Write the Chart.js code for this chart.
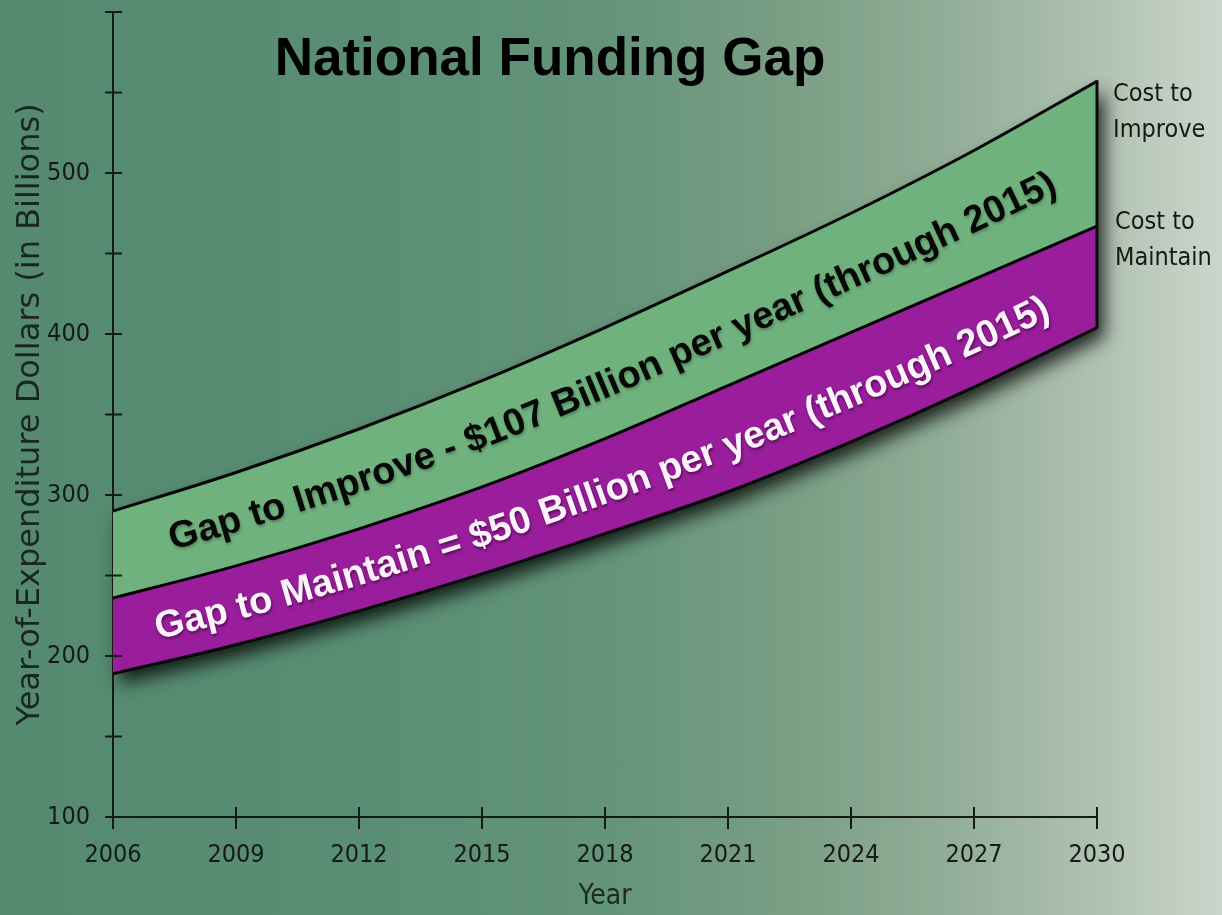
<!DOCTYPE html>
<html>
<head>
<meta charset="utf-8">
<title>National Funding Gap</title>
<script src="https://cdn.jsdelivr.net/npm/chart.js@4.4.1/dist/chart.umd.min.js"></script>
<style>
  html, body { margin: 0; padding: 0; }
  body {
    width: 1222px;
    height: 915px;
    overflow: hidden;
    background: linear-gradient(to right, #558a70 0%, #5a8e74 30%, #64947a 50%, #7a9f85 65%, #93ae98 78%, #b0c2b2 90%, #cad6cb 100%);
  }
  #wrap { position: relative; width: 1222px; height: 915px; }
</style>
</head>
<body>
<div id="wrap"><canvas id="gap-chart"></canvas></div>
<script>
const years = [2006, 2009, 2012, 2015, 2018, 2021, 2024, 2027, 2030];
const costToImprove = [290, 314, 341, 371, 404, 439, 475, 514, 557];
const costToMaintain = [236, 256, 279, 305, 335, 368, 401, 434, 467];
const spendingLevel = [189, 207, 228, 251, 276, 302, 333, 367, 404];

const improveLabel = 'Gap to Improve - $107 Billion per year (through 2015)';
const maintainLabel = 'Gap to Maintain = $50 Billion per year (through 2015)';

const narrowFont = "'Liberation Sans Narrow', 'DejaVu Sans Condensed', 'Liberation Sans', sans-serif";
const inkColor = '#161a17';

function toPoints(series) {
  return years.map((yr, i) => ({ x: yr, y: series[i] }));
}

// straight-line value between the sampled years, used to lay the band texts along the bands
function valueAt(series, year) {
  for (let i = 0; i < years.length - 1; i++) {
    if (year <= years[i + 1]) {
      const t = (year - years[i]) / (years[i + 1] - years[i]);
      return series[i] + t * (series[i + 1] - series[i]);
    }
  }
  return series[series.length - 1];
}

function drawBandText(chart, text, upper, lower, frac, startYear, font, color, shadow) {
  const ctx = chart.ctx;
  const xs = chart.scales.x;
  const ys = chart.scales.y;
  const baseY = (px) => {
    const yr = xs.getValueForPixel(px);
    const a = ys.getPixelForValue(valueAt(upper, yr));
    const b = ys.getPixelForValue(valueAt(lower, yr));
    return a + frac * (b - a);
  };
  ctx.save();
  ctx.font = font;
  ctx.fillStyle = color;
  ctx.textBaseline = 'alphabetic';
  ctx.shadowColor = shadow;
  ctx.shadowBlur = 3;
  ctx.shadowOffsetX = 1;
  ctx.shadowOffsetY = 2;
  let px = xs.getPixelForValue(startYear);
  for (const ch of text) {
    const w = ctx.measureText(ch).width;
    const ang = Math.atan2(baseY(px + 30) - baseY(px - 30), 60);
    ctx.save();
    ctx.translate(px, baseY(px));
    ctx.rotate(ang);
    ctx.fillText(ch, 0, 0);
    ctx.restore();
    px += Math.cos(ang) * w;
  }
  ctx.restore();
}

const bandShadow = {
  id: 'bandShadow',
  beforeDraw(chart) {
    const ctx = chart.ctx;
    const top = chart.getDatasetMeta(0).data;
    const bottom = chart.getDatasetMeta(2).data;
    ctx.save();
    ctx.shadowColor = 'rgba(0,0,0,0.8)';
    ctx.shadowBlur = 18;
    ctx.shadowOffsetX = 7;
    ctx.shadowOffsetY = 10;
    ctx.fillStyle = '#1c1c1c';
    ctx.beginPath();
    top.forEach((p, i) => (i ? ctx.lineTo(p.x, p.y) : ctx.moveTo(p.x, p.y)));
    for (let i = bottom.length - 1; i >= 0; i--) ctx.lineTo(bottom[i].x, bottom[i].y);
    ctx.closePath();
    ctx.fill();
    ctx.restore();
  },
  afterDatasetsDraw(chart) {
    const ctx = chart.ctx;
    const top = chart.getDatasetMeta(0).data;
    const bottom = chart.getDatasetMeta(2).data;
    const a = top[top.length - 1];
    const b = bottom[bottom.length - 1];
    ctx.save();
    ctx.strokeStyle = '#0a0a0a';
    ctx.lineWidth = 3;
    ctx.beginPath();
    ctx.moveTo(a.x, a.y - 1);
    ctx.lineTo(b.x, b.y + 1);
    ctx.stroke();

    // ticks that cross the axes
    const xs = chart.scales.x;
    const ys = chart.scales.y;
    ctx.strokeStyle = inkColor;
    ctx.lineWidth = 2;
    ys.ticks.forEach((t) => {
      const y = ys.getPixelForValue(t.value);
      ctx.beginPath();
      ctx.moveTo(xs.left - 8, y);
      ctx.lineTo(xs.left + 9, y);
      ctx.stroke();
    });
    xs.ticks.forEach((t) => {
      const x = xs.getPixelForValue(t.value);
      ctx.beginPath();
      ctx.moveTo(x, ys.bottom - 10);
      ctx.lineTo(x, ys.bottom + 12);
      ctx.stroke();
    });
    ctx.restore();

    drawBandText(chart, improveLabel, costToImprove, costToMaintain, 0.64, 2007.45,
      "bold 38px 'Liberation Sans', Arial, sans-serif", '#050805', 'rgba(0,0,0,0.25)');
    drawBandText(chart, maintainLabel, costToMaintain, spendingLevel, 0.69, 2007.1,
      "bold 38px 'Liberation Sans', Arial, sans-serif", '#fdf2fd', 'rgba(40,0,40,0.6)');
  },
  afterDraw(chart) {
    const ctx = chart.ctx;
    const xs = chart.scales.x;
    const ys = chart.scales.y;
    ctx.save();
    ctx.fillStyle = '#000';
    ctx.font = "bold 53px 'Liberation Sans', Arial, sans-serif";
    ctx.textAlign = 'center';
    ctx.textBaseline = 'alphabetic';
    ctx.fillText('National Funding Gap', 550, 75);

    ctx.fillStyle = inkColor;
    ctx.font = '25px ' + narrowFont;
    ctx.textAlign = 'left';
    ctx.textBaseline = 'middle';
    const endX = xs.right + 16;
    const improveY = ys.getPixelForValue(costToImprove[costToImprove.length - 1]);
    const maintainY = ys.getPixelForValue(costToMaintain[costToMaintain.length - 1]);
    ctx.fillText('Cost to', endX, improveY + 13);
    ctx.fillText('Improve', endX, improveY + 49);
    ctx.fillText('Cost to', endX + 2, maintainY - 4);
    ctx.fillText('Maintain', endX + 2, maintainY + 32);
    ctx.restore();
  }
};

new Chart(document.getElementById('gap-chart'), {
  type: 'line',
  data: {
    datasets: [
      {
        label: 'Cost to Improve',
        data: toPoints(costToImprove),
        borderColor: '#050505',
        borderWidth: 3,
        backgroundColor: '#70b27e',
        fill: '+1',
        pointRadius: 0,
        cubicInterpolationMode: 'monotone',
      },
      {
        label: 'Cost to Maintain',
        data: toPoints(costToMaintain),
        borderColor: '#050505',
        borderWidth: 3,
        backgroundColor: '#9a1e9b',
        fill: '+1',
        pointRadius: 0,
        cubicInterpolationMode: 'monotone',
      },
      {
        label: 'Spending',
        data: toPoints(spendingLevel),
        borderColor: '#050505',
        borderWidth: 3,
        fill: false,
        pointRadius: 0,
        cubicInterpolationMode: 'monotone',
      },
    ],
  },
  options: {
    responsive: true,
    maintainAspectRatio: false,
    animation: false,
    layout: { padding: { left: 0, right: 125, top: 12, bottom: 0 } },
    plugins: {
      legend: { display: false },
      tooltip: { enabled: false },
      filler: { drawTime: 'beforeDatasetsDraw' },
    },
    scales: {
      x: {
        type: 'linear',
        min: 2006,
        max: 2030,
        afterFit: (scale) => { scale.height = 98; },
        ticks: {
          stepSize: 3,
          padding: 15,
          color: inkColor,
          font: { family: narrowFont, size: 25 },
          callback: (v) => String(v),
          maxRotation: 0,
        },
        grid: { display: false },
        border: { display: true, color: inkColor, width: 2 },
        title: {
          display: true,
          text: 'Year',
          color: '#1e2a22',
          font: { family: narrowFont, size: 28 },
          padding: { top: 0, bottom: 1 },
        },
      },
      y: {
        min: 100,
        max: 600,
        afterFit: (scale) => {
          scale.width = 113;
          scale.paddingTop = 0;
          scale.paddingBottom = 0;
        },
        ticks: {
          stepSize: 50,
          padding: 15,
          color: inkColor,
          font: { family: narrowFont, size: 25 },
          callback: (v) => (v % 100 === 0 && v < 600 ? String(v) : ''),
        },
        grid: { display: false },
        border: { display: true, color: inkColor, width: 2 },
        title: {
          display: true,
          text: 'Year-of-Expenditure Dollars (in Billions)',
          color: '#1a2620',
          font: { family: "'DejaVu Sans', sans-serif", size: 32 },
          padding: { top: 11, bottom: 0 },
        },
      },
    },
  },
  plugins: [bandShadow],
});
</script>
</body>
</html>
